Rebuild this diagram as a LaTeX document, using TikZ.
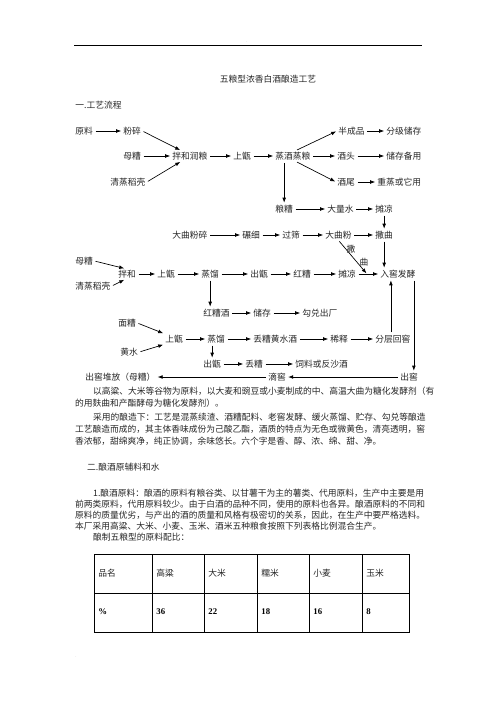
\documentclass[tikz,border=0pt]{standalone}
\usepackage{fontspec}
\newfontfamily\cjk{Noto Sans CJK SC}
\newfontfamily\lat{Liberation Serif}
\usetikzlibrary{arrows.meta,calc}
\XeTeXlinebreaklocale "zh"
\XeTeXlinebreakskip=0pt plus 1pt minus 0.6pt
\newdimen\pxu \pxu=1.2pt
\tikzset{
 lbl/.style={anchor=west,inner sep=1.5pt,font=\cjk\fontsize{10.5}{12}\selectfont,text=black!85},
 para/.style={anchor=west,inner sep=0pt,font=\cjk\fontsize{10.5}{12}\selectfont,text=black!85},
 num/.style={anchor=west,inner sep=1.5pt,font=\lat\bfseries\fontsize{10.5}{12}\selectfont},
 ar/.style={line width=0.8pt,-{Latex[length=6pt,width=4.5pt]},shorten <=1.5pt,shorten >=1pt},
 tab/.style={line width=1.1pt},
 tinydot/.style={inner sep=0pt,font=\fontsize{5}{5}\selectfont,text=black!40}
}
\begin{document}
\begin{tikzpicture}[x=1.2pt,y=-1.2pt]
\useasboundingbox (0,0) rectangle (496,702);
% page header
\draw[line width=0.9pt] (74,45) -- (422,45);
\node[tinydot] (hdot) at (247,42) {.};
\node[lbl,anchor=center] (title) at (268,79) {五粮型浓香白酒酿造工艺};
\node[lbl] (sec1) at (74,105) {一.工艺流程};
% row 1
\node[lbl] (yl) at (74,131) {原料};
\node[lbl] (fs) at (122,131) {粉碎};
\node[lbl] (bcp) at (337,131) {半成品};
\node[lbl] (fjcc) at (385,131) {分级储存};
% row 2
\node[lbl] (mz1) at (122,156) {母糟};
\node[lbl] (bhrl) at (171,156) {拌和润粮};
\node[lbl] (sz1) at (232,156) {上甑};
\node[lbl] (zjzl) at (274,156) {蒸酒蒸粮};
\node[lbl] (jt) at (336,156) {酒头};
\node[lbl] (ccby) at (385,156) {储存备用};
% row 3
\node[lbl] (qzdk1) at (109,182) {清蒸稻壳};
\node[lbl] (jw) at (336,182) {酒尾};
\node[lbl] (czty) at (376,182) {重蒸或它用};
% row 4
\node[lbl] (lz) at (274,209) {粮糟};
\node[lbl] (dls) at (326,209) {大量水};
\node[lbl] (tl1) at (374,209) {摊凉};
% row 5
\node[lbl] (dqfs) at (171,235) {大曲粉碎};
\node[lbl] (nx) at (241,235) {碾细};
\node[lbl] (gs) at (281,235) {过筛};
\node[lbl] (dqf) at (324,235) {大曲粉};
\node[lbl] (sq) at (374,235) {撒曲};
\node[lbl,anchor=center] (sa) at (351,249) {撒};
\node[lbl,anchor=center] (qu) at (364,262) {曲};
% row 6
\node[lbl] (mz2) at (74,261) {母糟};
\node[lbl] (qzdk2) at (74,286) {清蒸稻壳};
\node[lbl] (bh) at (117,274) {拌和};
\node[lbl] (sz2) at (156,274) {上甑};
\node[lbl] (zl1) at (200,274) {蒸馏};
\node[lbl] (cz1) at (249,274) {出甑};
\node[lbl] (hz) at (292,274) {红糟};
\node[lbl] (tl2) at (337,274) {摊凉};
\node[lbl] (rjfj) at (379,274) {入窖发酵};
% row 7
\node[lbl] (hzj) at (202,313) {红糟酒};
\node[lbl] (cc) at (252,313) {储存};
\node[lbl] (gdcc) at (301,313) {勾兑出厂};
% row 8
\node[lbl] (mianz) at (117,323) {面糟};
\node[lbl] (hs) at (119,352) {黄水};
\node[lbl] (sz3) at (164,339) {上甑};
\node[lbl] (zl2) at (206,339) {蒸馏};
\node[lbl] (dzhsj) at (252,339) {丢糟黄水酒};
\node[lbl] (xs) at (329,339) {稀释};
\node[lbl] (fchj) at (374,339) {分层回窖};
% row 9
\node[lbl] (cz2) at (202,364) {出甑};
\node[lbl] (dz) at (244,364) {丢糟};
\node[lbl] (slfs) at (294,364) {饲料或反沙酒};
% row 10
\node[lbl] (cj) at (399,377) {出窖};
\node[lbl] (dj) at (267,377) {滴窖};
\node[lbl] (cjdf) at (84,377) {出窖堆放（母糟）};
% connectors
\draw[ar] (yl) -- (fs);
\draw[ar] (fs.east) -- ($(bhrl.north west)+(10,0)$);
\draw[ar] (mz1) -- (bhrl);
\draw[ar] (qzdk1.east) -- ($(bhrl.south west)+(10,0)$);
\draw[ar] (bhrl) -- (sz1);
\draw[ar] (sz1) -- (zjzl);
\draw[ar] ($(zjzl.north)+(3,0)$) -- (bcp.west);
\draw[ar] (zjzl) -- (jt);
\draw[ar] ($(zjzl.south)+(3,0)$) -- (jw.west);
\draw[ar] (bcp) -- (fjcc);
\draw[ar] (jt) -- (ccby);
\draw[ar] (jw) -- (czty);
\draw[ar] (lz.north |- zjzl.south) -- (lz.north);
\draw[ar] (lz) -- (dls);
\draw[ar] (dls) -- (tl1);
\draw[ar] (tl1) -- (sq);
\draw[ar] (dqfs) -- (nx);
\draw[ar] (nx) -- (gs);
\draw[ar] (gs) -- (dqf);
\draw[ar] (dqf) -- (sq);
\draw[ar] (sq.south) -- (sq.south |- rjfj.north);
\draw[ar] (dqf.south) -- ($(rjfj.west)+(-12,0)$);
\draw[ar] (mz2.east) -- ($(bh.north west)+(8,0)$);
\draw[ar] (qzdk2.east) -- ($(bh.south west)+(8,0)$);
\draw[ar] (bh) -- (sz2);
\draw[ar] (sz2) -- (zl1);
\draw[ar] (zl1) -- (cz1);
\draw[ar] (cz1) -- (hz);
\draw[ar] (hz) -- (tl2);
\draw[ar] (tl2) -- (rjfj);
\draw[ar] (zl1.south) -- (zl1.south |- hzj.north);
\draw[ar] (hzj) -- (cc);
\draw[ar] (cc) -- (gdcc);
\draw[ar] (mianz.east) -- (sz3.north west);
\draw[ar] (hs.east) -- (sz3.south west);
\draw[ar] (sz3) -- (zl2);
\draw[ar] (zl2) -- (dzhsj);
\draw[ar] (dzhsj) -- (xs);
\draw[ar] (xs) -- (fchj);
\draw[ar] (cz2.north |- zl2.south) -- (cz2.north);
\draw[ar] (cz2) -- (dz);
\draw[ar] (dz) -- (slfs);
\coordinate (up) at ($(fchj.north)+(-2,0)$);
\draw[ar] (up) -- (up |- rjfj.south);
\coordinate (rdn) at ($(rjfj.south east)+(-3,0)$);
\draw[ar] (rdn) -- (rdn |- cj.north);
\draw[ar] (cj) -- (dj);
\draw[ar] (dj) -- (cjdf);
% paragraphs
\node[para] (p1a) at (93,391) {\hbox to 332\pxu{以高粱、大米等谷物为原料，以大麦和豌豆或小麦制成的中、高温大曲为糖化发酵剂（有}};
\node[para] (p1b) at (75,403) {的用麸曲和产酯酵母为糖化发酵剂）。};
\node[para] (p2a) at (93,417) {\hbox to 332\pxu{采用的酿造下：工艺是混蒸续渣、酒糟配料、老窖发酵、缓火蒸馏、贮存、勾兑等酿造}};
\node[para] (p2b) at (75,429) {\hbox to 350\pxu{工艺酿造而成的，其主体香味成份为己酸乙酯，酒质的特点为无色或微黄色，清亮透明，窖}};
\node[para] (p2c) at (75,441) {香浓郁，甜绵爽净，纯正协调，余味悠长。六个字是香、醇、浓、绵、甜、净。};
\node[para] (sec2) at (87,467) {二.酿酒原辅料和水};
\node[para] (p3a) at (93,493) {\hbox to 332\pxu{1.酿酒原料：酿酒的原料有粮谷类、以甘薯干为主的薯类、代用原料，生产中主要是用}};
\node[para] (p3b) at (75,504) {\hbox to 350\pxu{前两类原料，代用原料较少。由于白酒的品种不同，使用的原料也各异。酿酒原料的不同和}};
\node[para] (p3c) at (75,515) {\hbox to 350\pxu{原料的质量优劣，与产出的酒的质量和风格有极密切的关系，因此，在生产中要严格选料。}};
\node[para] (p3d) at (75,526) {本厂采用高粱、大米、小麦、玉米、酒米五种粮食按照下列表格比例混合生产。};
\node[para] (p3e) at (93,537) {酿制五粮型的原料配比：};
% table
\draw[tab] (94,554) rectangle (409,632);
\draw[tab] (94,593) -- (409,593);
\foreach \x in {152,204,257,309,362} \draw[tab] (\x,554) -- (\x,632);
\foreach \x/\t [count=\i] in {94/品名,152/高粱,204/大米,257/糯米,309/小麦,362/玉米}
  \node[lbl] (th\i) at (\x+3,573) {\t};
\foreach \x/\t [count=\i] in {94/\%,152/36,204/22,257/18,309/16,362/8}
  \node[num] (td\i) at (\x+3,612) {\t};
\node[tinydot] (fdot) at (76,657) {.};
\end{tikzpicture}
\end{document}
